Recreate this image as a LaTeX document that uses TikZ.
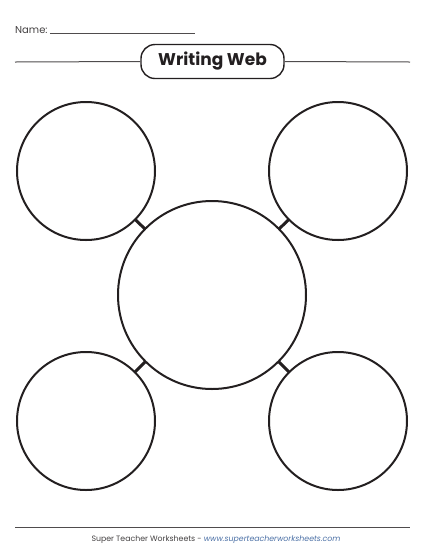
\documentclass[tikz,border=0pt]{standalone}
\usepackage{fontspec}
\setmainfont{Poppins}
\usepackage{tikz}
\usetikzlibrary{positioning}

\definecolor{urlblue}{HTML}{4A6FA5}
\definecolor{ink}{HTML}{231F20}

\begin{document}
\begin{tikzpicture}[x=1pt,y=-1pt,node distance=2cm,on grid,
    bubble/.style={circle,draw=ink,line width=2pt,inner sep=0pt,outer sep=0pt,minimum size=138pt},
    hub/.style={bubble,minimum size=188pt},
    link/.style={draw=ink,line width=3pt},
    rule/.style={draw=ink!80,line width=1pt}]
    \useasboundingbox (0,0) rectangle (425,550);

    % header
    \node[anchor=base west,inner sep=0pt,font=\fontsize{10}{12}\selectfont,text=ink!85] (name) at (15,33) {Name:};
    \coordinate (nameend) at (195,33);
    \draw[rule,line width=0.9pt] ([xshift=2pt]name.base east) -- (nameend);

    \node[draw=ink,line width=1.4pt,rounded corners=14pt,minimum width=143pt,minimum height=34pt,
          font=\fontsize{17}{20}\bfseries\selectfont,text=ink] (title) at (212.5,61.5) {Writing Web};
    \coordinate (ruleL) at (15,62);
    \coordinate (ruleR) at (410,62);
    \draw[rule] (ruleL) -- (title.west);
    \draw[rule] (title.east) -- (ruleR);

    % web
    \node[hub] (c0) at (212,295) {};
    \node[bubble] (c1) [above left=124pt and 126pt of c0] {};
    \node[bubble] (c2) [above right=124pt and 126pt of c0] {};
    \node[bubble] (c3) [below left=126pt and 126pt of c0] {};
    \node[bubble] (c4) [below right=126pt and 126pt of c0] {};

    \path[link]
    (c0) -- (c1)
    (c0) -- (c2)
    (c0) -- (c3)
    (c0) -- (c4);

    % footer
    \coordinate (footL) at (15,527);
    \coordinate (footR) at (410,527);
    \draw[rule] (footL) -- (footR);
    \node[anchor=base,inner sep=0pt,font=\fontsize{7.8}{9}\selectfont,text=ink!85] (foot) at (216,541)
        {Super Teacher Worksheets - \textcolor{urlblue}{\itshape www.superteacherworksheets.com}};
\end{tikzpicture}
\end{document}
